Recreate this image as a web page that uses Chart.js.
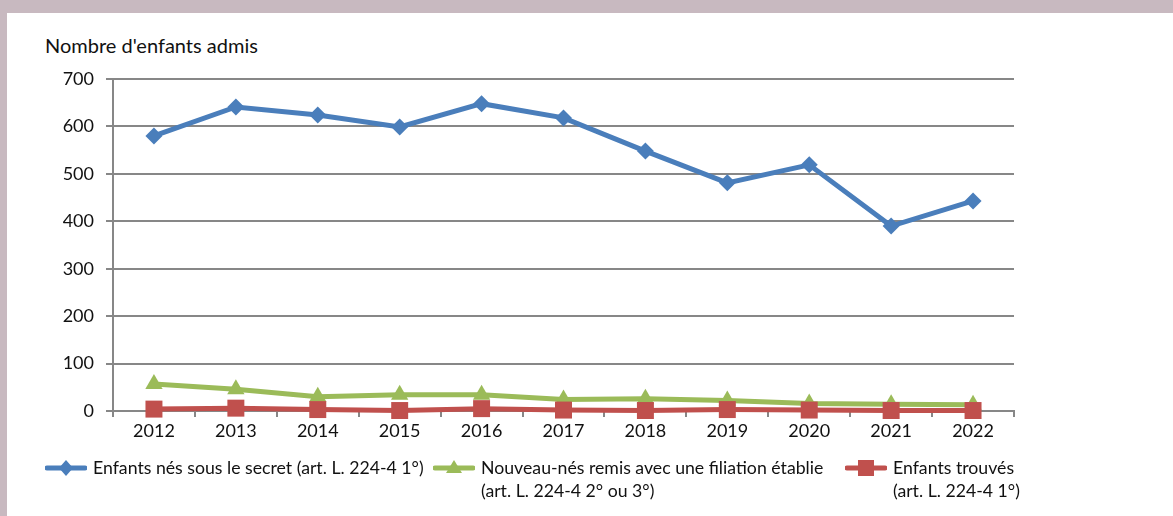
<!DOCTYPE html>
<html lang="fr">
<head>
<meta charset="UTF-8">
<title>Nombre d'enfants admis</title>
<style>
  body { margin: 0; background: #c8b9c0; width: 1173px; height: 516px; overflow: hidden; position: relative; font-family: Lato, "Open Sans", sans-serif; }
  .panel { position: absolute; left: 7px; top: 13px; width: 1166px; height: 503px; background: #fff; }
  .wrap { position: absolute; left: 0; top: 0; width: 1173px; height: 516px; }
  .ytitle { position: absolute; left: 45px; top: 33px; font-size: 20px; color: #111; }
  .legend-item { position: absolute; top: 456px; display: flex; align-items: flex-start; font-size: 17.7px; color: #111; line-height: 23px; }
  .legend-item svg { margin-right: 6px; margin-top: 0px; }
</style>
</head>
<body>
<div class="panel"></div>
<div class="ytitle">Nombre d'enfants admis</div>
<div class="wrap"><canvas id="chart" width="1173" height="516"></canvas></div>
<div id="legend"></div>

<script src="https://cdn.jsdelivr.net/npm/chart.js"></script>
<script>
const years = ['2012', '2013', '2014', '2015', '2016', '2017', '2018', '2019', '2020', '2021', '2022'];
const secret = [580, 641, 624, 599, 648, 618, 548, 481, 519, 390, 443];
const filiation = [57, 46, 30, 34, 34, 24, 26, 22, 16, 14, 13];
const trouves = [4, 6, 3, 1, 5, 2, 1, 3, 2, 1, 1];

const seriesNames = [
    ['Enfants nés sous le secret (art. L. 224-4 1°)'],
    ['Nouveau-nés remis avec une filiation établie', '(art. L. 224-4 2° ou 3°)'],
    ['Enfants trouvés', '(art. L. 224-4 1°)']
];
const colors = ['#4a7ebb', '#9bbb59', '#c0504d'];
const legendX = [45, 433, 845];

function series(label, data, color, style, radius) {
    return {
        label: label,
        data: data,
        borderColor: color,
        backgroundColor: color,
        borderWidth: 5,
        pointStyle: style,
        pointRadius: radius,
        pointHoverRadius: radius,
        pointBorderWidth: 0,
        tension: 0,
        clip: false
    };
}

const gridColor = '#878787';

new Chart(document.getElementById('chart'), {
    type: 'line',
    data: {
        labels: years,
        datasets: [
            series(seriesNames[0].join(' '), secret, colors[0], 'rectRot', 8.5),
            series(seriesNames[1].join(' '), filiation, colors[1], 'triangle', 10),
            series(seriesNames[2].join(' '), trouves, colors[2], 'rect', 12)
        ].reverse()
    },
    options: {
        responsive: false,
        animation: false,
        devicePixelRatio: 1,
        layout: { padding: { left: 40, top: 79, right: 159, bottom: 65 } },
        plugins: { legend: { display: false }, tooltip: { enabled: false } },
        scales: {
            x: {
                offset: true,
                afterFit: s => { s.height = 40; },
                grid: { offset: true, drawOnChartArea: false, drawTicks: true, tickLength: 6, color: gridColor, lineWidth: 2 },
                border: { color: gridColor, width: 2 },
                ticks: { color: '#111', font: { family: 'Lato', size: 18 }, padding: 3 }
            },
            y: {
                min: 0,
                max: 700,
                afterFit: s => { s.width = 73; },
                grid: { color: gridColor, lineWidth: 2, tickLength: 7 },
                border: { color: gridColor, width: 2 },
                ticks: { stepSize: 100, color: '#111', font: { family: 'Lato', size: 18 }, padding: 12 }
            }
        }
    }
});

// legend
const legend = document.getElementById('legend');
const styles = ['diamond', 'triangle', 'square'];
seriesNames.forEach((lines, i) => {
    const c = colors[i];
    let mark = '';
    if (styles[i] === 'diamond') mark = `<polygon points="21,4 28,12 21,20 14,12" fill="${c}"/>`;
    if (styles[i] === 'triangle') mark = `<polygon points="21,4 29,17 13,17" fill="${c}"/>`;
    if (styles[i] === 'square') mark = `<rect x="13" y="4" width="16" height="16" fill="${c}"/>`;
    const item = document.createElement('div');
    item.className = 'legend-item';
    item.style.left = legendX[i] + 'px';
    item.innerHTML = `<svg width="42" height="24"><line x1="2" y1="12" x2="40" y2="12" stroke="${c}" stroke-width="5" stroke-linecap="round"/>${mark}</svg><div>${lines.join('<br>')}</div>`;
    legend.appendChild(item);
});
</script>
</body>
</html>
